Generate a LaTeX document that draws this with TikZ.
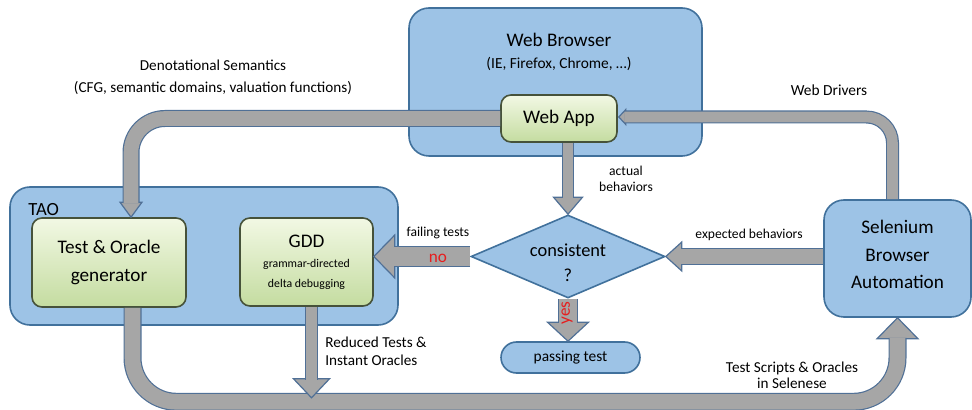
\documentclass[tikz,border=0pt]{standalone}
\usepackage{fontspec}
\setmainfont{Carlito}
\usetikzlibrary{shapes.geometric,calc}

\definecolor{boxblue}{RGB}{157,195,230}
\definecolor{boxedge}{RGB}{65,113,156}
\definecolor{pipegray}{RGB}{166,166,166}
\definecolor{pipeedge}{RGB}{80,112,150}
\definecolor{greenlight}{RGB}{242,248,228}
\definecolor{greendark}{RGB}{196,220,160}
\definecolor{greenedge}{RGB}{70,82,58}
\definecolor{answerred}{RGB}{230,30,30}

\tikzset{
  bluebox/.style={rectangle, rounded corners=10pt, draw=boxedge, fill=boxblue, line width=0.8pt, align=center},
  greenbox/.style={rectangle, rounded corners=5pt, draw=greenedge, top color=greenlight, bottom color=greendark, line width=0.8pt, align=center},
  pipe/.style={draw=pipeedge, line width=0.6pt, double=pipegray},
  pipehead/.style={fill=pipegray, draw=pipeedge, line width=0.6pt, line join=miter},
  bigtxt/.style={font=\fontsize{9.6}{13.8}\selectfont, align=center},
  midtxt/.style={font=\fontsize{7.7}{9}\selectfont, align=center},
  smalltxt/.style={font=\fontsize{6.8}{8}\selectfont, align=center}
}

\begin{document}
\begin{tikzpicture}[x=0.5pt,y=-0.5pt]
  \useasboundingbox (0,0) rectangle (972,410);
  % containers
  \node[bluebox, minimum width=146.5pt, minimum height=74pt] (browser) at (555.5,82) {};
  \node[bluebox, minimum width=194pt, minimum height=69pt] (tao) at (204,256) {};
  \node[bluebox, bigtxt, minimum width=73.5pt, minimum height=58.5pt] (selenium) at (897.5,258.5) {};
  % inner boxes
  \node[greenbox, bigtxt, minimum width=58pt, minimum height=23.5pt] (webapp) at (559,118.5) {Web App};
  \node[greenbox, bigtxt, minimum width=77pt, minimum height=44.5pt] (testgen) at (109,262.5) {Test \& Oracle\\generator};
  \node[greenbox, minimum width=66.5pt, minimum height=44pt, font=\fontsize{5.9}{10}\selectfont] (gdd) at (306.5,262) {{\fontsize{9.6}{10}\selectfont GDD}\\grammar-directed\\delta debugging};
  \node[diamond, aspect=2.34, inner sep=0pt, minimum width=97pt, minimum height=41.5pt, draw=boxedge, fill=boxblue, line width=0.8pt] (check) at (568,256.5) {};
  \node[rectangle, rounded corners=7.75pt, draw=boxedge, fill=boxblue, line width=0.8pt, minimum width=69.5pt, minimum height=15.5pt, midtxt] (pass) at (570.5,357.5) {passing test};

  % Web App -> Test & Oracle generator
  \draw[pipehead] ($(testgen.north)+(22,0)$) -- ++(-11,-15) -- ++(22,0) -- cycle;
  \draw[pipe, double distance=7.3pt, rounded corners=17pt] (webapp.west) -| ($(testgen.north)+(22,-14)$);
  % Selenium -> Web App
  \draw[pipehead] ($(webapp.east)+(1,-1.5)$) -- ++(7,-7.5) -- ++(0,15) -- cycle;
  \draw[pipe, double distance=5.3pt, rounded corners=13pt] ($(selenium.north)+(-5,0)$) |- ($(webapp.east)+(7,-1.5)$);
  % Web App -> consistent?
  \draw[pipehead] (check.north) -- ++(-14.5,-17) -- ++(29,0) -- cycle;
  \draw[pipe, double distance=4.8pt] (webapp.south -| check.north) -- ($(check.north)+(0,-16)$);
  % consistent? -> GDD
  \draw[pipehead] (check.west -| gdd.east) -- ++(21,-21.5) -- ++(0,43) -- cycle;
  \draw[pipe, double distance=9.3pt] (check.west) -- ($(check.west -| gdd.east)+(20,0)$);
  % consistent? -> passing test
  \draw[pipehead] (check.south |- pass.north) -- ++(-20.5,-19) -- ++(41,0) -- cycle;
  \draw[pipe, double distance=8.8pt] (check.south) -- ($(check.south |- pass.north)+(0,-18)$);
  % Selenium -> consistent?
  \draw[pipehead] (check.east) -- ++(16,-14.5) -- ++(0,29) -- cycle;
  \draw[pipe, double distance=7.3pt] (selenium.west |- check.east) -- ($(check.east)+(15,0)$);
  % Test & Oracle generator -> Selenium
  \draw[pipehead] (selenium.south) -- ++(-20.5,21) -- ++(41,0) -- cycle;
  \draw[pipe, double distance=7.8pt, rounded corners=22pt] ($(testgen.south)+(23.5,0)$) |- ($(selenium.south)+(0,84)$) -- ($(selenium.south)+(0,20)$);
  % GDD -> test scripts
  \draw[pipehead] ($(gdd.south)+(5,91)$) -- ++(-18,-19) -- ++(36,0) -- cycle;
  \draw[pipe, double distance=5.3pt] ($(gdd.south)+(5,0)$) -- ($(gdd.south)+(5,73)$);

  % labels
  \node[bigtxt] (browsertitle) at (559,40) {Web Browser};
  \node[midtxt] (browsersub) at (559,64) {(IE, Firefox, Chrome, …)};
  \node[bigtxt] (seleniumtext) at ($(selenium)+(0,-4)$) {Selenium\\Browser\\Automation};
  \node[font=\fontsize{9.2}{12.5}\selectfont, align=center] (checktext) at ($(check)+(0,6)$) {consistent\\?};
  \node[midtxt, font=\fontsize{7.6}{11}\selectfont] (denot) at (213,77) {Denotational Semantics\\(CFG, semantic domains, valuation functions)};
  \node[midtxt] (drivers) at (829,90) {Web Drivers};
  \node[smalltxt] (actual) at (626,179) {actual\\behaviors};
  \node[font=\fontsize{9.3}{10}\selectfont, anchor=west, inner sep=0pt] (taolabel) at (28,210) {TAO};
  \node[smalltxt] (failing) at (438,233) {failing tests};
  \node[font=\fontsize{8.6}{10}\selectfont, text=answerred] (no) at (438,258) {no};
  \node[smalltxt] (expected) at (749,235) {expected behaviors};
  \node[font=\fontsize{8.6}{10}\selectfont, text=answerred, rotate=90] (yes) at (567,313) {yes};
  \node[midtxt, align=left, anchor=west, inner sep=0pt, font=\fontsize{7.6}{9}\selectfont] (reduced) at (325,351) {Reduced Tests \&\\Instant Oracles};
  \node[midtxt, font=\fontsize{7.6}{8}\selectfont] (scripts) at (792,375) {Test Scripts \& Oracles\\in Selenese};
\end{tikzpicture}
\end{document}
